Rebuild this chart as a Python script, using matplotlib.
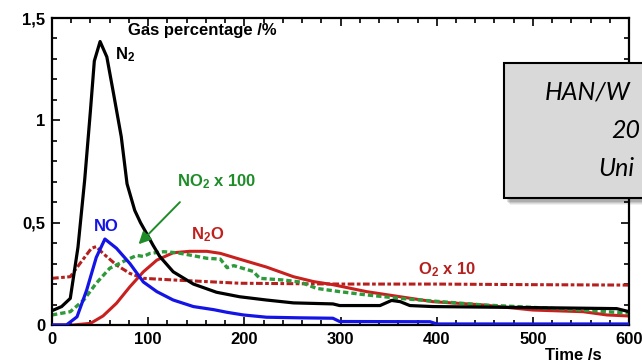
import matplotlib
matplotlib.use("Agg")
import matplotlib.pyplot as plt
from matplotlib.patches import Rectangle
from matplotlib.ticker import MultipleLocator, FuncFormatter

plt.rcParams["font.family"] = ["Liberation Sans", "DejaVu Sans"]
plt.rcParams["mathtext.fontset"] = "custom"
plt.rcParams["mathtext.rm"] = "Liberation Sans"
plt.rcParams["mathtext.bf"] = "Liberation Sans:bold"

# ---- data (time in s, gas percentage in %) ----
n2_t = [0, 10, 19, 27, 34, 40, 44, 50, 57, 64, 72, 78, 86, 92, 98, 105, 112, 126, 147, 171,
        195, 223, 251, 292, 299, 341, 353, 362, 372, 396, 500, 587, 600]
n2_y = [0.07, 0.09, 0.13, 0.38, 0.71, 1.05, 1.29, 1.385, 1.31, 1.13, 0.92, 0.69, 0.56, 0.50, 0.45,
        0.39, 0.335, 0.26, 0.20, 0.16, 0.138, 0.122, 0.108, 0.103, 0.095, 0.095, 0.12, 0.114, 0.095,
        0.09, 0.085, 0.08, 0.065]

no_t = [0, 15, 26, 36, 46, 55, 67, 81, 95, 109, 126, 147, 168, 182, 199, 223, 258, 292, 299,
        393, 400, 600]
no_y = [0.0, 0.0, 0.04, 0.17, 0.33, 0.42, 0.375, 0.30, 0.21, 0.163, 0.122, 0.09, 0.075, 0.062,
        0.049, 0.038, 0.035, 0.033, 0.017, 0.016, 0.005, 0.005]

n2o_t = [0, 22, 40, 53, 67, 81, 95, 109, 126, 143, 161, 175, 192, 223, 251, 272, 292, 327,
         362, 396, 448, 500, 552, 577, 600]
n2o_y = [0.0, 0.0, 0.008, 0.044, 0.106, 0.187, 0.26, 0.317, 0.353, 0.36, 0.36, 0.35, 0.326,
         0.283, 0.236, 0.212, 0.197, 0.163, 0.138, 0.114, 0.098, 0.073, 0.065, 0.049, 0.044]

no2_t = [0, 19, 33, 46, 60, 74, 88, 95, 102, 116, 130, 143, 161, 175, 182, 189, 209, 216, 240,
         258, 275, 299, 327, 362, 396, 448, 500, 552, 600]
no2_y = [0.049, 0.065, 0.122, 0.204, 0.277, 0.31, 0.34, 0.335, 0.35, 0.358, 0.353, 0.342, 0.326,
         0.322, 0.28, 0.29, 0.262, 0.228, 0.22, 0.21, 0.179, 0.163, 0.147, 0.13, 0.117, 0.098,
         0.086, 0.073, 0.057]

o2_t = [0, 19, 29, 41, 46, 53, 67, 81, 95, 126, 161, 195, 300, 400, 500, 600]
o2_y = [0.228, 0.236, 0.30, 0.375, 0.383, 0.35, 0.293, 0.252, 0.228, 0.22, 0.212, 0.204, 0.2,
        0.2, 0.197, 0.195]

fig = plt.figure(figsize=(6.42, 3.63), dpi=100)
ax = fig.add_axes([0.081, 0.1047, 0.899, 0.8457])

ax.plot(n2_t, n2_y, color="black", lw=2.3, zorder=3)
ax.plot(o2_t, o2_y, color="#b5201f", lw=2.2, ls=(0, (2.2, 0.8, 1.2, 0.8)), zorder=2)
ax.plot(n2o_t, n2o_y, color="#c8201e", lw=2.2, zorder=2)
ax.plot(no2_t, no2_y, color="#2e9a3a", lw=2.4, ls=(0, (1.6, 0.9)), zorder=2)
ax.plot(no_t, no_y, color="#1414e6", lw=2.3, zorder=4)

ax.set_xlim(0, 600)
ax.set_ylim(0, 1.5)
ax.xaxis.set_major_locator(MultipleLocator(100))
ax.xaxis.set_minor_locator(MultipleLocator(20))
ax.yaxis.set_major_locator(MultipleLocator(0.5))
ax.yaxis.set_minor_locator(MultipleLocator(0.1))
ax.yaxis.set_major_formatter(FuncFormatter(lambda v, p: f"{v:g}".replace(".", ",")))
ax.tick_params(which="both", direction="in", top=True, right=True, width=1.2)
ax.tick_params(which="major", length=6, labelsize=12, pad=5)
ax.tick_params(which="minor", length=3.5)
for lab in ax.get_xticklabels() + ax.get_yticklabels():
    lab.set_fontweight("bold")
for sp in ax.spines.values():
    sp.set_linewidth(1.6)

bold = dict(fontsize=12, fontweight="bold")
ax.text(79, 1.44, "Gas percentage /%", ha="left", va="center", **bold)
ax.text(66, 1.32, r"$\mathbf{N_2}$", ha="left", va="center", color="black", **bold)
ax.text(44, 0.48, "NO", ha="left", va="center", color="#1414e6", **bold)
ax.text(130, 0.70, r"$\mathbf{NO_2}$ x 100", ha="left", va="center", color="#1e8c28", **bold)
ax.text(145, 0.44, r"$\mathbf{N_2O}$", ha="left", va="center", color="#c0201e", **bold)
ax.text(380, 0.27, r"$\mathbf{O_2}$ x 10", ha="left", va="center", color="#b5201f", **bold)
ax.annotate("", xy=(88, 0.385), xytext=(135, 0.61),
            arrowprops=dict(arrowstyle="-|>", color="#1e8c28", lw=1.4, mutation_scale=18))
fig.text(573 / 642, 1 - 355 / 363, "Time /s", ha="center", va="center", **bold)

# grey overlay box with shadow, cut off at the right edge
for i, a in enumerate([0.06, 0.08, 0.10, 0.12]):
    off = 4 - i
    fig.patches.append(Rectangle(((504 + off + 2) / 642, 1 - (199 + off + 2) / 363),
                                 200 / 642, 136 / 363, transform=fig.transFigure,
                                 facecolor="black", edgecolor="none", alpha=a, zorder=5))
fig.patches.append(Rectangle((504 / 642, 1 - 198 / 363), 200 / 642, 135 / 363,
                             transform=fig.transFigure, facecolor="#d9d9d9",
                             edgecolor="black", lw=1.5, zorder=6))
box = dict(fontsize=18, style="italic", family=["Lato", "DejaVu Sans"], ha="left",
           va="center", zorder=7)
fig.text(545 / 642, 1 - 92 / 363, "HAN/W", **box)
fig.text(611 / 642, 1 - 130 / 363, "20", **box)
fig.text(598 / 642, 1 - 168 / 363, "Uni", **box)

fig.savefig("out.png", dpi=100)
